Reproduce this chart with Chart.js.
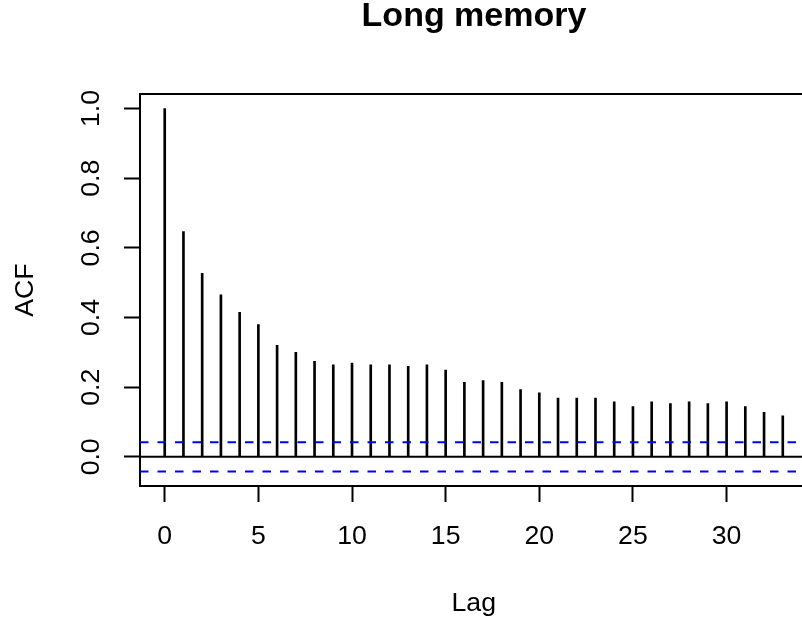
<!DOCTYPE html>
<html>
<head>
<meta charset="utf-8">
<script src="https://cdn.jsdelivr.net/npm/chart.js@4"></script>
<style>
  html, body { margin: 0; padding: 0; background: #fff; overflow: hidden; }
  #wrap { width: 802px; height: 626px; overflow: hidden; position: relative; }
  #acfChart { position: absolute; left: 0; top: 0; }
</style>
</head>
<body>
<div id="wrap"><canvas id="acfChart" width="948" height="626"></canvas></div>
<script>
// lags and sample autocorrelations
var lags = [0, 1, 2, 3, 4, 5, 6, 7, 8, 9, 10, 11, 12, 13, 14, 15, 16,
  17, 18, 19, 20, 21, 22, 23, 24, 25, 26, 27, 28, 29, 30, 31, 32, 33];
var acfValues = [1.0, 0.647, 0.527, 0.465, 0.415, 0.380, 0.320, 0.300, 0.274,
  0.264, 0.269, 0.264, 0.264, 0.260, 0.264, 0.249, 0.214, 0.219, 0.214,
  0.193, 0.184, 0.169, 0.169, 0.169, 0.158, 0.144, 0.158, 0.153, 0.158,
  0.153, 0.158, 0.144, 0.128, 0.118];
var confLimit = 0.042; // blue dashed bounds (+/-)
var xTicks = [0, 5, 10, 15, 20, 25, 30];
var yTicks = [0.0, 0.2, 0.4, 0.6, 0.8, 1.0];

// axis range like R: data range stretched 4%
var xMin = -1.32, xMax = 34.32;
var yMin = -0.0837, yMax = 1.0417;

var FONT = "'Liberation Sans', Arial, sans-serif";
var axisFont = { family: FONT, size: 26.67 };

var spikes = lags.map(function (l, i) { return { x: l, y: acfValues[i] }; });

var ctx = document.getElementById("acfChart").getContext("2d");
var acfChart = new Chart(ctx, {
  type: "bar",
  data: {
    datasets: [
      {
        type: "line",
        data: [{ x: xMin, y: confLimit }, { x: xMax, y: confLimit }],
        borderColor: "#0000ff",
        borderWidth: 2,
        borderDash: [8.5, 9],
        pointRadius: 0,
        fill: false
      },
      {
        type: "line",
        data: [{ x: xMin, y: -confLimit }, { x: xMax, y: -confLimit }],
        borderColor: "#0000ff",
        borderWidth: 2,
        borderDash: [8.5, 9],
        pointRadius: 0,
        fill: false
      },
      {
        type: "line",
        data: [{ x: xMin, y: 0 }, { x: xMax, y: 0 }],
        borderColor: "#000",
        borderWidth: 2,
        pointRadius: 0,
        fill: false
      },
      {
        type: "bar",
        data: spikes,
        backgroundColor: "#000",
        borderWidth: 0,
        barThickness: 2,
        grouped: false
      }
    ]
  },
  options: {
    responsive: false,
    animation: false,
    layout: { padding: 0 },
    plugins: {
      legend: { display: false },
      tooltip: { enabled: false },
      title: {
        display: true,
        text: "Long memory",
        color: "#000",
        font: { family: FONT, size: 34, weight: "bold", lineHeight: 1 },
        padding: { top: 0, bottom: 60 }
      }
    },
    scales: {
      x: {
        type: "linear",
        position: "bottom",
        min: xMin,
        max: xMax,
        offset: false,
        afterBuildTicks: function (scale) {
          scale.ticks = xTicks.map(function (v) { return { value: v }; });
        },
        afterFit: function (scale) { scale.height = 140; },
        grid: { offset: false, drawOnChartArea: false, drawTicks: true, tickLength: 16, tickColor: "#000", tickWidth: 2 },
        border: { display: true, color: "#000", width: 2 },
        ticks: { color: "#000", font: axisFont, padding: 19, maxRotation: 0, autoSkip: false },
        title: { display: true, text: "Lag", color: "#000", font: axisFont, padding: { top: 0, bottom: 6 } }
      },
      x2: {
        type: "linear",
        position: "top",
        min: xMin,
        max: xMax,
        afterFit: function (scale) { scale.height = 0; },
        grid: { display: false, drawOnChartArea: false, drawTicks: false },
        border: { display: true, color: "#000", width: 2 },
        ticks: { display: false }
      },
      y: {
        type: "linear",
        position: "left",
        min: yMin,
        max: yMax,
        afterBuildTicks: function (scale) {
          scale.ticks = yTicks.map(function (v) { return { value: v }; });
        },
        afterFit: function (scale) { scale.width = 140; },
        grid: { drawOnChartArea: false, drawTicks: true, tickLength: 16, tickColor: "#000", tickWidth: 2 },
        border: { display: true, color: "#000", width: 2 },
        ticks: {
          color: "#000",
          font: axisFont,
          padding: 14,
          minRotation: 90,
          maxRotation: 90,
          crossAlign: "center",
          callback: function (v) { return Number(v).toFixed(1); }
        },
        title: { display: true, text: "ACF", color: "#000", font: axisFont, padding: { top: 10, bottom: 0 } }
      },
      // right side of the box (falls outside the visible window, like the original)
      y2: {
        type: "linear",
        position: "right",
        min: yMin,
        max: yMax,
        afterFit: function (scale) { scale.width = 140.5; },
        grid: { display: false, drawOnChartArea: false, drawTicks: false },
        border: { display: true, color: "#000", width: 2 },
        ticks: { display: false }
      }
    }
  }
});
</script>
</body>
</html>
